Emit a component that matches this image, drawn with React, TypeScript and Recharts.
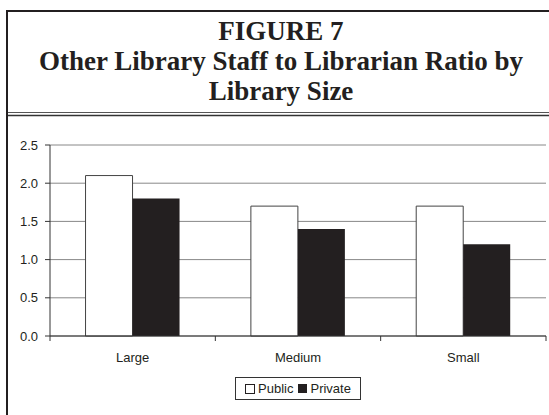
import React from 'react';
import { BarChart, Bar, XAxis, YAxis, CartesianGrid, Legend } from 'recharts';

const categories = ['Large', 'Medium', 'Small'];
const publicValues = [2.1, 1.7, 1.7];
const privateValues = [1.8, 1.4, 1.2];
const yTicks = [0, 0.5, 1.0, 1.5, 2.0, 2.5];
const titleLines = ['FIGURE 7', 'Other Library Staff to Librarian Ratio by', 'Library Size'];

const data = categories.map((name, i) => ({ name, Public: publicValues[i], Private: privateValues[i] }));

const INK = '#231f20';
const SANS = '"Liberation Sans", Arial, sans-serif';

// Excel style: tick marks sit between categories, labels in the middle
const CategoryTick = (props: any) => {
  const { x, y, payload, index, visibleTicksCount } = props;
  const off = payload.offset || 0;
  const last = index === visibleTicksCount - 1;
  return (
    <g>
      <line x1={x - off} x2={x - off} y1={y} y2={y + 5} stroke="#333" />
      {last && <line x1={x + off} x2={x + off} y1={y} y2={y + 5} stroke="#333" />}
      <text x={x} y={y + 26} textAnchor="middle" fontFamily={SANS} fontSize={13} fill={INK}>
        {payload.value}
      </text>
    </g>
  );
};

const LegendBox = () => (
  <div
    style={{
      boxSizing: 'border-box',
      width: 126,
      height: 23,
      border: '1px solid #333',
      display: 'flex',
      alignItems: 'center',
      justifyContent: 'center',
      fontFamily: SANS,
      fontSize: 13,
      color: INK,
      background: '#fff',
    }}
  >
    <span style={{ width: 8, height: 8, border: `1px solid ${INK}`, background: '#fff', marginRight: 3 }} />
    <span>Public</span>
    <span style={{ width: 9, height: 9, background: INK, marginLeft: 5, marginRight: 3 }} />
    <span>Private</span>
  </div>
);

export default function App() {
  return (
    <div style={{ position: 'absolute', left: 0, top: 0, width: 549, height: 415, background: '#fff' }}>
      <svg width={549} height={415} style={{ position: 'absolute', left: 0, top: 0 }}>
        <line x1={7} x2={7} y1={10} y2={415} stroke={INK} strokeWidth={2} />
        <line x1={6} x2={549} y1={11} y2={11} stroke={INK} strokeWidth={2} />
        <line x1={8} x2={549} y1={112.5} y2={112.5} stroke="#555" strokeWidth={1} />
        <line x1={8} x2={549} y1={115.5} y2={115.5} stroke="#333" strokeWidth={1.5} />
        {titleLines.map((t, i) => (
          <text
            key={t}
            x={281}
            y={40 + i * 30}
            textAnchor="middle"
            fontFamily='"Liberation Serif", "Times New Roman", serif'
            fontWeight="bold"
            fontSize={27}
            fill={INK}
          >
            {t}
          </text>
        ))}
      </svg>
      <div style={{ position: 'absolute', left: 0, top: 0 }}>
        <BarChart
          width={549}
          height={415}
          data={data}
          margin={{ top: 145, right: 3, left: 0, bottom: 49 }}
          barGap={0}
          barCategoryGap="21.5%"
        >
          <CartesianGrid vertical={false} stroke="#888" />
          <XAxis
            dataKey="name"
            height={30}
            tickSize={0}
            tickMargin={0}
            tickLine={false}
            axisLine={{ stroke: '#333' }}
            tick={<CategoryTick />}
            interval={0}
          />
          <YAxis
            width={50}
            domain={[0, 2.5]}
            ticks={yTicks}
            interval={0}
            tickFormatter={(v: number) => v.toFixed(1)}
            tickSize={5}
            tickMargin={7}
            axisLine={{ stroke: '#333' }}
            tickLine={{ stroke: '#333' }}
            tick={{ fontFamily: SANS, fontSize: 13, fill: INK }}
          />
          <Legend
            layout="horizontal"
            verticalAlign="middle"
            align="center"
            wrapperStyle={{ top: 377, left: 235, width: 126, height: 23 }}
            content={<LegendBox />}
          />
          <Bar dataKey="Public" fill="#fff" stroke="#444" strokeWidth={1} isAnimationActive={false} />
          <Bar dataKey="Private" fill={INK} isAnimationActive={false} />
        </BarChart>
      </div>
    </div>
  );
}
